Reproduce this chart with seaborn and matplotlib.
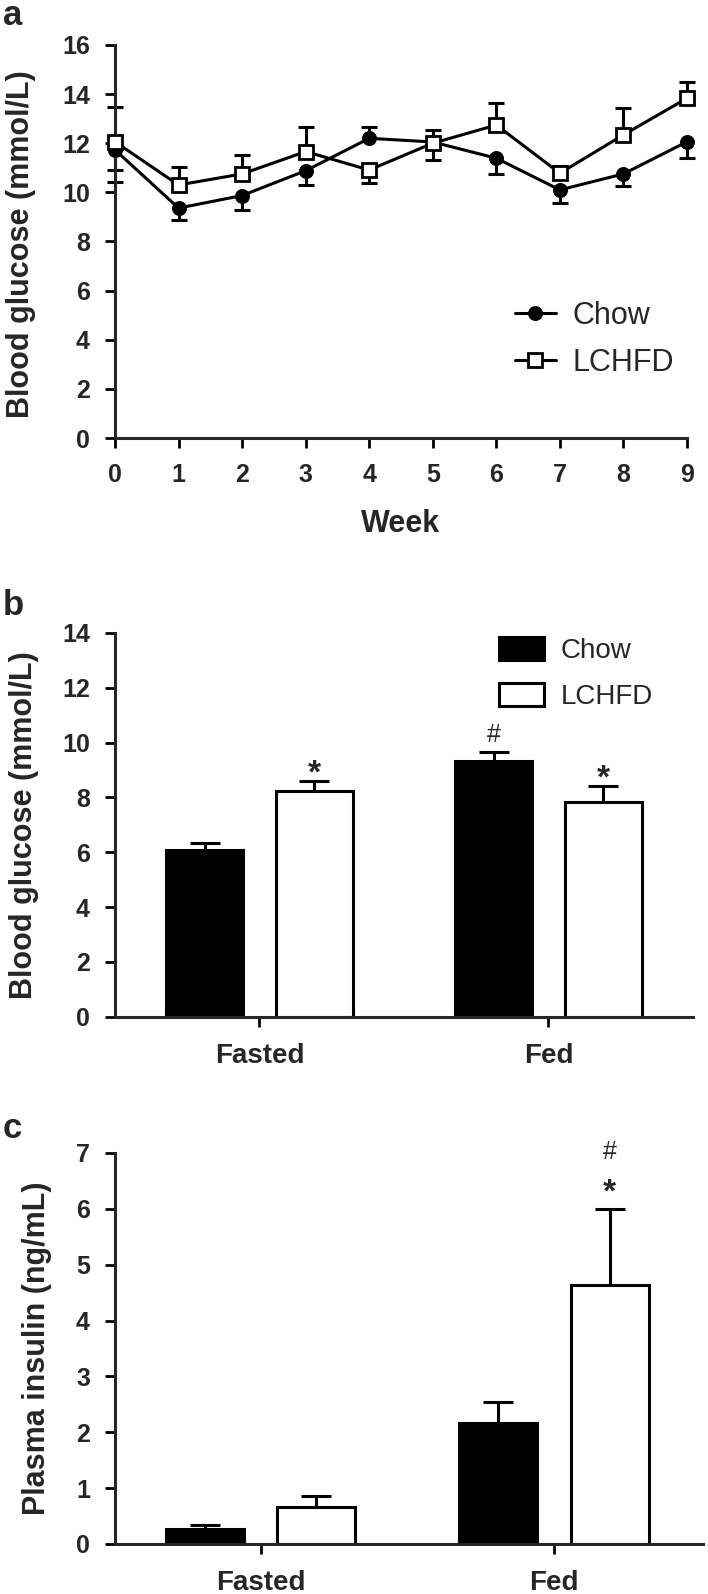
import numpy as np
import pandas as pd
import seaborn as sns
import matplotlib.pyplot as plt
from matplotlib.patches import Patch

# Panel a: blood glucose over 9 weeks (mean, with one-sided SEM as drawn)
weeks = [0, 1, 2, 3, 4, 5, 6, 7, 8, 9]
chow_glucose = [11.73, 9.36, 9.87, 10.88, 12.20, 12.05, 11.39, 10.10, 10.75, 12.06]
lchfd_glucose = [12.06, 10.30, 10.75, 11.66, 10.91, 12.00, 12.74, 10.78, 12.34, 13.83]
chow_err_lo = [0.82, 0.49, 0.59, 0.58, 0, 0, 0.64, 0.52, 0.49, 0.67]
chow_err_hi = [0, 0, 0, 0, 0.45, 0.50, 0, 0, 0, 0]
lchfd_err_lo = [1.62, 0, 0, 0, 0.53, 0.68, 0, 0, 0, 0]
lchfd_err_hi = [1.40, 0.75, 0.77, 0.99, 0, 0, 0.91, 0.30, 1.08, 0.68]

# Panels b and c: fasted vs fed
states = ["Fasted", "Fed"]
diets = ["Chow", "LCHFD"]
glucose_chow = [6.08, 9.34]
glucose_chow_se = [0.27, 0.30]
glucose_lchfd = [8.25, 7.85]
glucose_lchfd_se = [0.36, 0.57]
insulin_chow = [0.27, 2.16]
insulin_chow_se = [0.07, 0.39]
insulin_lchfd = [0.67, 4.63]
insulin_lchfd_se = [0.18, 1.37]

sns.set_style("ticks")
plt.rcParams["font.family"] = ["Liberation Sans", "DejaVu Sans"]
plt.rcParams["font.weight"] = "bold"
plt.rcParams["axes.labelweight"] = "bold"

LW = 2.2
TICK_SIZE = 18
LABEL_SIZE = 22


def style_axis(ax):
    sns.despine(ax=ax)
    for s in ["left", "bottom"]:
        ax.spines[s].set_linewidth(LW)
    ax.tick_params(width=2, length=7, labelsize=TICK_SIZE, pad=11, color="black")


def one_sided_err(ax, x, y, lo, hi, capsize, zorder=2):
    x = np.asarray(x, float)
    y = np.asarray(y, float)
    lo = np.asarray(lo, float)
    hi = np.asarray(hi, float)
    m = lo > 0
    if m.any():
        _, caps, _ = ax.errorbar(x[m], y[m], yerr=[lo[m], np.zeros(m.sum())], fmt="none",
                                 ecolor="black", elinewidth=LW, capsize=capsize, capthick=LW,
                                 zorder=zorder, clip_on=False)
        caps[1].set_visible(False)
    m = hi > 0
    if m.any():
        _, caps, _ = ax.errorbar(x[m], y[m], yerr=[np.zeros(m.sum()), hi[m]], fmt="none",
                                 ecolor="black", elinewidth=LW, capsize=capsize, capthick=LW,
                                 zorder=zorder, clip_on=False)
        caps[0].set_visible(False)


fig = plt.figure(figsize=(7.08, 15.94), dpi=100)
ax_a = fig.add_axes([0.1624, 0.7252, 0.8079, 0.2466])
ax_b = fig.add_axes([0.1624, 0.3622, 0.8164, 0.2407])
ax_c = fig.add_axes([0.1624, 0.0314, 0.8305, 0.2453])

# ---- panel a
one_sided_err(ax_a, weeks, chow_glucose, chow_err_lo, chow_err_hi, capsize=6)
one_sided_err(ax_a, weeks, lchfd_glucose, lchfd_err_lo, lchfd_err_hi, capsize=6)
sns.lineplot(x=weeks, y=chow_glucose, color="black", marker="o", markersize=10,
             markeredgecolor="black", linewidth=LW, ax=ax_a, clip_on=False, zorder=3)
line_chow = ax_a.lines[-1]
sns.lineplot(x=weeks, y=lchfd_glucose, color="black", marker="s", markersize=10,
             markerfacecolor="white", markeredgecolor="black", markeredgewidth=2,
             linewidth=LW, ax=ax_a, clip_on=False, zorder=4)
line_lchfd = ax_a.lines[-1]
ax_a.set_xlim(0, 9)
ax_a.set_ylim(0, 16)
ax_a.set_xticks(weeks)
ax_a.set_yticks(range(0, 17, 2))
ax_a.set_xlabel("Week", fontsize=LABEL_SIZE)
ax_a.set_ylabel("Blood glucose (mmol/L)", fontsize=LABEL_SIZE)
ax_a.yaxis.set_label_coords(-0.138, 0.494)
ax_a.xaxis.set_label_coords(0.5, -0.18)
style_axis(ax_a)
ax_a.legend(handles=[line_chow, line_lchfd], labels=diets, loc="upper left",
            bbox_to_anchor=(0.699, 0.349), frameon=False, handlelength=1.35,
            handletextpad=0.55, labelspacing=0.56, borderpad=0, borderaxespad=0,
            prop={"weight": "normal", "size": 22})


# ---- panels b and c (bars)
def bar_panel(ax, chow_vals, lchfd_vals, chow_se, lchfd_se, ylabel, ymax, ystep):
    df = pd.DataFrame({"state": states * 2,
                       "diet": [diets[0]] * 2 + [diets[1]] * 2,
                       "value": chow_vals + lchfd_vals})
    sns.barplot(data=df, x="state", y="value", hue="diet", order=states, hue_order=diets,
                palette=["black", "white"], saturation=1, edgecolor="black", linewidth=LW,
                width=0.76, gap=0.3, errorbar=None, legend=False, ax=ax, zorder=2)
    for cont, se in zip(ax.containers, [chow_se, lchfd_se]):
        xs = [p.get_x() + p.get_width() / 2 for p in cont]
        ys = [p.get_height() for p in cont]
        one_sided_err(ax, xs, ys, [0] * len(xs), se, capsize=11, zorder=1)
    ax.set_ylim(0, ymax)
    ax.set_yticks(np.arange(0, ymax + 0.01, ystep))
    ax.set_xlabel("")
    ax.set_ylabel(ylabel, fontsize=LABEL_SIZE)
    style_axis(ax)
    ax.tick_params(axis="x", labelsize=20, pad=12)
    return ax.containers


cont_b = bar_panel(ax_b, glucose_chow, glucose_lchfd, glucose_chow_se, glucose_lchfd_se,
                   "Blood glucose (mmol/L)", 14, 2)
ax_b.set_xlim(-0.5, 1.5)
ax_b.yaxis.set_label_coords(-0.131, 0.5)
ax_b.legend(handles=[Patch(facecolor="black", edgecolor="black", linewidth=LW),
                     Patch(facecolor="white", edgecolor="black", linewidth=LW)],
            labels=diets, loc="upper left", bbox_to_anchor=(0.664, 0.99), frameon=False,
            handlelength=1.62, handleheight=0.9, handletextpad=0.6, labelspacing=0.67,
            borderpad=0, borderaxespad=0, prop={"weight": "normal", "size": 20})


def mark(ax, p, se, sym, off, size, weight):
    ax.annotate(sym, xy=(p.get_x() + p.get_width() / 2, p.get_height() + se),
                xytext=(0, off), textcoords="offset points", ha="center", va="baseline",
                fontsize=size, fontweight=weight, annotation_clip=False)


mark(ax_b, cont_b[1][0], glucose_lchfd_se[0], "*", -1.5, 24, "bold")
mark(ax_b, cont_b[0][1], glucose_chow_se[1], "#", 7.5, 18, "normal")
mark(ax_b, cont_b[1][1], glucose_lchfd_se[1], "*", -1.5, 24, "bold")

cont_c = bar_panel(ax_c, insulin_chow, insulin_lchfd, insulin_chow_se, insulin_lchfd_se,
                   "Plasma insulin (ng/mL)", 7, 1)
ax_c.set_xlim(-0.496, 1.508)
ax_c.yaxis.set_label_coords(-0.107, 0.5)
mark(ax_c, cont_c[1][1], insulin_lchfd_se[1], "*", 5, 24, "bold")
mark(ax_c, cont_c[1][1], insulin_lchfd_se[1], "#", 36, 18, "normal")

# panel letters
for letter, base in [("a", 25), ("b", 615), ("c", 1138)]:
    fig.text(3 / 708, 1 - base / 1594, letter, ha="left", va="baseline",
             fontsize=25, fontweight="bold")

fig.savefig("out.png", dpi=100)
